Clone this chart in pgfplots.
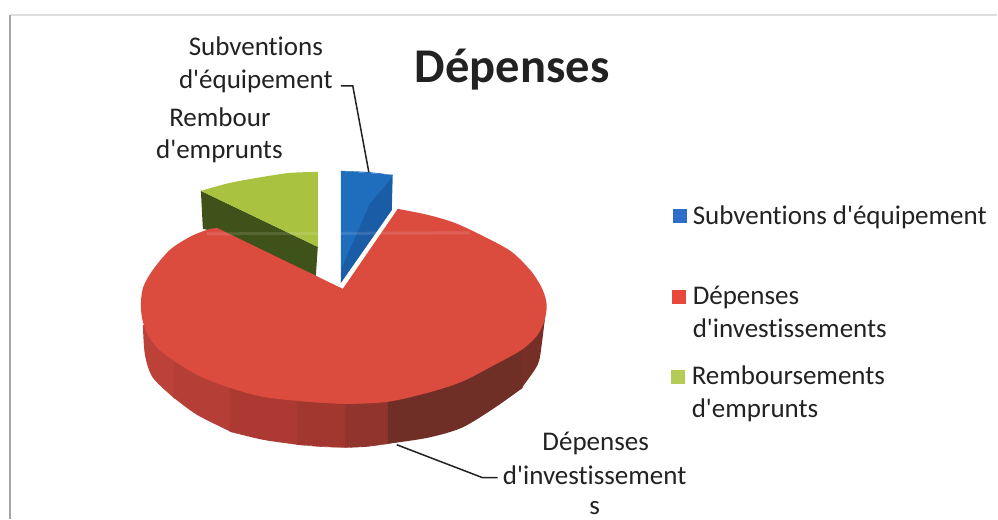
\documentclass[border=0pt]{standalone}
\usepackage{pgfplots}
\pgfplotsset{compat=1.18}
\usepackage{fontspec}
\newfontfamily\calib[Ligatures=NoCommon]{Carlito}
\definecolor{redtop}{HTML}{DB4C3F}
\definecolor{greentop}{HTML}{A9C23F}
\definecolor{greendark}{HTML}{3F5219}
\definecolor{bluetop}{HTML}{1F6EBE}
\definecolor{bluedark}{HTML}{1A5CA5}
\definecolor{txt}{HTML}{222222}
\definecolor{sa}{HTML}{BC4239}
\definecolor{sb}{HTML}{B53E36}
\definecolor{sc}{HTML}{AC3A32}
\definecolor{sd}{HTML}{A2372F}
\definecolor{se}{HTML}{90342D}
\definecolor{sf}{HTML}{6F2E26}
\definecolor{sg}{HTML}{762F27}
\newcommand{\body}{\calib\fontsize{27bp}{30bp}\selectfont}
\begin{document}
\begin{tikzpicture}
\begin{axis}[
  scale only axis, width=998bp, height=519bp,
  xmin=0, xmax=998, ymin=0, ymax=519, y dir=reverse,
  hide axis, clip=false,
]
% page extent
\addplot[draw=none, forget plot] coordinates {(0,0) (998,519)};
% frame
\addplot[color=black!13, line width=1.2bp] coordinates {(10,15) (998,15)};
\addplot[color=black!35, line width=1.8bp] coordinates {(10,15) (10,519)};
% green wedge
\addplot[fill=greendark, draw=none] coordinates {(201,191) (318,247) (316,276) (217,232) (203,229)};
\addplot[fill=greentop, draw=none, smooth] coordinates {(201,191) (230,183) (263,177) (290,173) (318,172)};
\addplot[fill=greentop, draw=none] coordinates {(318,247) (201,191) (263,179) (318,172)};
% blue wedge
\addplot[fill=bluetop, draw=none, smooth] coordinates {(341,171) (367,172) (393,175)};
\addplot[fill=bluetop, draw=none] coordinates {(341,283) (341,171) (367,173) (393,175) (392,210)};
\addplot[fill=bluedark, draw=none] coordinates {(392,178) (392,210) (341,283) (342,268) (370,204)};
% red side, slice by slice from left to right
\addplot[fill=sa, draw=none, smooth] coordinates {(143,325) (145,355) (153,378) (175,399)};
\addplot[fill=sa, draw=none] coordinates {(143,325) (175,340) (175,399) (153,376)};
\addplot[fill=sb, draw=none, smooth] coordinates {(174,398) (197,415) (231,432)};
\addplot[fill=sb, draw=none] coordinates {(174,340) (231,360) (231,432) (197,414) (174,398)};
\addplot[fill=sc, draw=none, smooth] coordinates {(230,432) (263,440) (298,445)};
\addplot[fill=sc, draw=none] coordinates {(230,360) (298,380) (298,445) (263,439) (230,432)};
\addplot[fill=sd, draw=none, smooth] coordinates {(297,445) (320,447) (346,448)};
\addplot[fill=sd, draw=none] coordinates {(297,380) (346,380) (346,448) (320,446.5) (297,445)};
\addplot[fill=se, draw=none, smooth] coordinates {(345,448) (367,447) (389,444)};
\addplot[fill=se, draw=none] coordinates {(345,380) (389,380) (389,444) (367,446.5) (345,448)};
\addplot[fill=sf, draw=none, smooth] coordinates {(388,444) (428,438) (462,428) (495,408) (523,388)};
\addplot[fill=sf, draw=none] coordinates {(388,380) (523,340) (523,388) (495,407) (462,427) (428,437) (388,444)};
\addplot[fill=sg, draw=none, smooth] coordinates {(522,388) (538,365) (542,345) (545,320)};
\addplot[fill=sg, draw=none] coordinates {(522,340) (545,320) (541,345) (537,365) (522,388)};
% red top face
\addplot[fill=redtop, draw=none, smooth] coordinates {
 (398,209) (428,215) (455,223) (485,237) (512,252) (532,272) (543,290) (547,305) (545,320)
 (538,335) (522,350) (495,365) (462,382) (428,393) (388,402) (345,404) (297,401)};
\addplot[fill=redtop, draw=none, smooth] coordinates {
 (388,402) (345,404) (297,401) (263,397) (230,388) (197,375) (163,353) (149,337) (143,322)
 (141,307) (143,288) (153,270) (170,250) (190,237) (207,230) (217,228)};
\addplot[fill=redtop, draw=none] coordinates {(343,289) (398,209) (470,290) (388,401) (297,400) (200,320) (217,228)};
% scan streak
\addplot[color=white, opacity=0.12, line width=3bp] coordinates {(207,234) (470,233)};
% leader lines
\addplot[color=txt, line width=1.5bp] coordinates {(341,86) (353,86) (369,172)};
\addplot[color=txt, line width=1.5bp] coordinates {(397,445) (483,478) (498,478)};
% legend keys
\addplot[only marks, mark=square*, mark size=6.5bp, color={rgb,255:red,47;green,110;blue,200}] coordinates {(680,216)};
\addplot[only marks, mark=square*, mark size=6.5bp, color={rgb,255:red,232;green,72;blue,60}] coordinates {(679,297)};
\addplot[only marks, mark=square*, mark size=6.5bp, color={rgb,255:red,180;green,203;blue,85}] coordinates {(678,377)};
% text
\node[anchor=base, text=txt, inner sep=0pt] at (axis cs:256,56) {\body Subventions};
\node[anchor=base, text=txt, inner sep=0pt] at (axis cs:256,89) {\body d'équipement};
\node[anchor=base, text=txt, inner sep=0pt] at (axis cs:220,127) {\body Rembour};
\node[anchor=base, text=txt, inner sep=0pt] at (axis cs:219.5,159) {\body d'emprunts};
\node[anchor=base west, text=txt, inner sep=0pt] at (axis cs:415,83) {\calib\fontsize{48.5bp}{54bp}\selectfont\bfseries Dépenses};
\node[anchor=base west, text=txt, inner sep=0pt] at (axis cs:693,225) {\body Subventions d'équipement};
\node[anchor=base west, text=txt, inner sep=0pt] at (axis cs:693,305) {\body Dépenses};
\node[anchor=base west, text=txt, inner sep=0pt] at (axis cs:693,338) {\body d'investissements};
\node[anchor=base west, text=txt, inner sep=0pt] at (axis cs:692,385) {\body Remboursements};
\node[anchor=base west, text=txt, inner sep=0pt] at (axis cs:692,418) {\body d'emprunts};
\node[anchor=base, text=txt, inner sep=0pt] at (axis cs:596,451) {\body Dépenses};
\node[anchor=base, text=txt, inner sep=0pt] at (axis cs:595,485) {\body d'investissement};
\node[anchor=base, text=txt, inner sep=0pt] at (axis cs:595,515) {\body s};
\end{axis}
\end{tikzpicture}
\end{document}
